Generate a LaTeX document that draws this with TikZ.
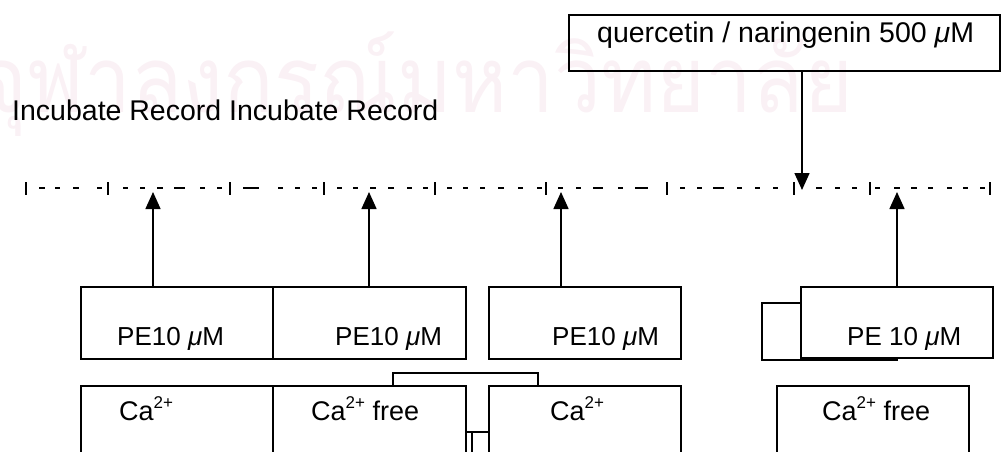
\documentclass[tikz,border=0pt]{standalone}
\usepackage{fontspec}
\setmainfont{Liberation Sans}
\newfontfamily\thaifont[Script=Thai]{Loma}
\usetikzlibrary{arrows.meta}
\definecolor{wmpink}{RGB}{250,241,245}
\newcommand{\sqty}{\raisebox{12pt}{\fontsize{17}{17}\selectfont 2+}}

\begin{document}
\begin{tikzpicture}[x=1pt,y=-1pt,
  box/.style={draw, line width=1.5pt, inner sep=0pt, outer sep=0pt, anchor=north west},
  lbl/.style={anchor=base west, inner sep=0pt, font=\fontsize{26}{30}\selectfont},
  big/.style={lbl, font=\fontsize{28.5}{32}\selectfont},
  calbl/.style={lbl, font=\fontsize{27}{31}\selectfont},
  arr/.style={line width=1.5pt, -{Triangle[length=17pt,width=15pt]}},
  wire/.style={line width=1.5pt},
  tl/.style={line width=2pt}]
\useasboundingbox (0,0) rectangle (1001,452);
\clip (0,0) rectangle (1001,452);

% faint background wordmark
\node[anchor=base west, inner sep=0pt, text=wmpink, xscale=0.91]
  (wm) at (-22,112) {\thaifont\fontsize{92}{100}\selectfont จุฬาลงกรณ์มหาวิทยาลัย};

% heading
\node[big] (head) at (12,120) {Incubate Record Incubate Record};

% compound box
\node[box, minimum width=431pt, minimum height=56pt] (qn) at (569,15) {};
\node[big] (qntext) at (597,43) {quercetin / naringenin 500 {\itshape μ}M};

% time line: dashes and ticks
\foreach \a/\b in {39/45,55/60,73/79,97/102,
  123/128,140/145,157/163,174/185,200/205,217/222,
  243/259,278/283,295/300,312/317,
  337/342,353/358,370/376,388/394,407/412,423/428,
  447/452,463/468,480/485,498/504,518/523,537/542,
  558/563,576/581,593/603,618/623,635/648,
  680/685,697/702,713/724,737/742,755/760,773/778,
  816/822,835/840,852/857,
  875/880,894/900,911/917,928/933,947/952,963/968,980/985}
  \draw[tl] (\a,188) -- (\b,188);
\foreach \x in {26,108,230,324,435,546,667,794,870,990}
  \draw[tl] (\x,182) -- (\x,195);

% arrow targets on the time line
\coordinate (t1) at (153,192);
\coordinate (t2) at (369,192);
\coordinate (t3) at (561,192);
\coordinate (t4) at (897,192);
\coordinate (tq) at (802,190);

% agonist boxes
\node[box, minimum width=192pt, minimum height=72pt] (pe1) at (81,287) {};
\node[box, minimum width=193pt, minimum height=72pt] (pe2) at (273,287) {};
\node[box, minimum width=192pt, minimum height=72pt] (pe3) at (489,287) {};
\node[box, minimum width=135pt, minimum height=57pt] (pe4) at (762,303) {};
\node[box, fill=white, minimum width=192pt, minimum height=71pt] (pe5) at (801,287) {};
\node[lbl] (pe1t) at (117,345) {PE10 {\itshape μ}M};
\node[lbl] (pe2t) at (335,345) {PE10 {\itshape μ}M};
\node[lbl] (pe3t) at (552,345) {PE10 {\itshape μ}M};
\node[lbl] (pe5t) at (847,345) {PE 10 {\itshape μ}M};

% arrows
\draw[arr] (pe1.north -| t1) -- (t1);
\draw[arr] (pe2.north -| t2) -- (t2);
\draw[arr] (pe3.north -| t3) -- (t3);
\draw[arr] (pe5.north -| t4) -- (t4);
\draw[arr] (qn.south -| tq) -- (tq);

% calcium boxes
\node[box, minimum width=192pt, minimum height=90pt] (caA) at (81,386) {};
\node[box, minimum width=193pt, minimum height=90pt] (caB) at (273,386) {};
\node[box, minimum width=192pt, minimum height=90pt] (caC) at (489,386) {};
\node[box, minimum width=192pt, minimum height=90pt] (caD) at (777,386) {};
\node[calbl] (caAt) at (119,420) {Ca\sqty};
\node[calbl] (caBt) at (311,420) {Ca\sqty\ free};
\node[calbl] (caCt) at (550,420) {Ca\sqty};
\node[calbl] (caDt) at (822,420) {Ca\sqty\ free};

% links between the calcium boxes
\coordinate (j1) at (393,373);
\coordinate (j2) at (538,373);
\draw[wire] (caB.north -| j1) -- (j1) -- (j2) -- (caC.north -| j2);
\coordinate (k1) at (472,432);
\coordinate (k2) at (472,460);
\draw[wire] (caB.east |- k1) -- (caC.west |- k1);
\draw[wire] (k1) -- (k2);
\end{tikzpicture}
\end{document}
